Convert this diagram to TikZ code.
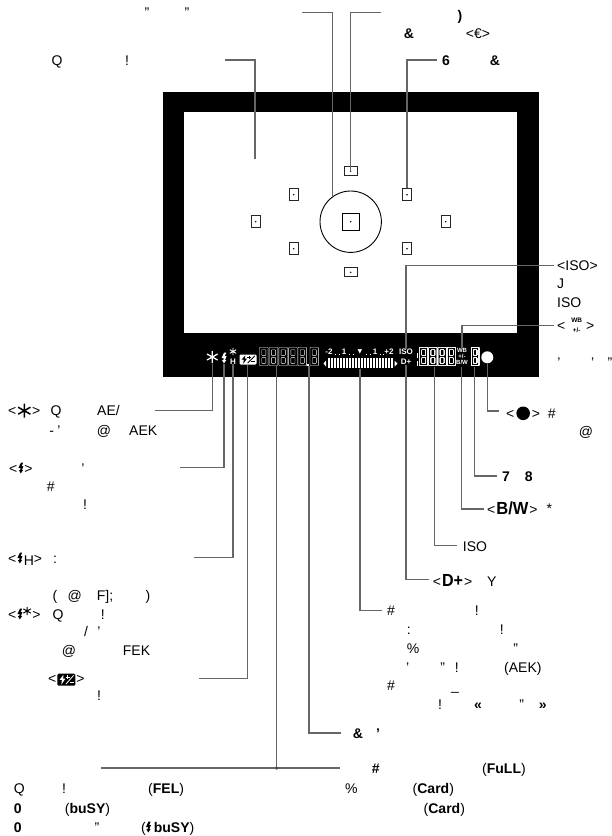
\documentclass[tikz,border=0pt]{standalone}
\usepackage{fontspec}
\usepackage{graphicx}
\setmainfont{Liberation Sans}
\newfontfamily\symfont{DejaVu Sans}
% Inline symbols, centred on the capital height of the text
\newcommand{\flashmark}[1]{\tikz[x=#1pt,y=#1pt,baseline=-5pt]\fill (0.2,5.5) -- (2.4,5.5) -- (0.9,1.8) -- (2.6,1.8) -- (1.2,-2) -- (2.4,-2) -- (0,-5.5) -- (-1.8,-2) -- (-0.6,-2) -- (-0.1,-0.2) -- (-2.4,-0.2) -- cycle;}
\newcommand{\starmark}[2]{\tikz[x=1pt,y=1pt,baseline=-5pt]{\draw[line width=#2pt] (0,-#1) -- (0,#1) (-#1*0.88,-#1*0.5) -- (#1*0.88,#1*0.5) (-#1*0.88,#1*0.5) -- (#1*0.88,-#1*0.5);}}
\newcommand{\fecmark}[4]{\tikz[x=1pt,y=1pt,baseline=-4pt]{
  \fill[#3, rounded corners=1.2pt] (-#1/2,-#2/2) rectangle (#1/2,#2/2);
  \fill[#4] (-#1*0.16,#2*0.42) -- (-#1*0.38,-#2*0.02) -- (-#1*0.25,-#2*0.02) -- (-#1*0.28,-#2*0.42) -- (-#1*0.06,#2*0.08) -- (-#1*0.18,#2*0.08) -- cycle;
  \draw[#4, line width=0.8pt] (-#1*0.02,-#2*0.36) -- (#1*0.4,#2*0.36);
  \draw[#4, line width=0.7pt] (-#1*0.04,#2*0.2) -- (#1*0.18,#2*0.2) (#1*0.07,#2*0.05) -- (#1*0.07,#2*0.36) (#1*0.18,-#2*0.2) -- (#1*0.4,-#2*0.2);
}}
\newcommand{\dotmark}{\tikz[x=1pt,y=1pt,baseline=-5pt]\fill (0,0) circle (6.8);}
\tikzset{
  txt/.style={anchor=west, inner sep=0pt, text height=10pt, text depth=0pt, font=\fontsize{14}{14}\selectfont},
  mrk/.style={txt, anchor=center},
  bld/.style={mrk, font=\fontsize{14}{14}\selectfont\bfseries},
  lcd/.style={inner sep=0pt, text=white, font=\fontsize{8}{8}\selectfont\bfseries},
  lcdsmall/.style={lcd, font=\fontsize{6}{6}\selectfont\bfseries},
  leader/.style={draw=black!60, line width=1.1pt},
  afbox/.style={draw=black!85, line width=0.9pt, inner sep=0pt, fill=white},
  seg/.style={draw=white, line width=0.4pt, rounded corners=0.5pt}
}
\newcommand{\digit}[2]{
  \draw[seg] (#1,347.5) rectangle (#1+#2,365.5);
  \draw[seg] (#1+2.2,349.7) rectangle (#1+#2-2.2,355.4);
  \draw[seg] (#1+2.2,357.6) rectangle (#1+#2-2.2,363.3);
}
\begin{document}
\begin{tikzpicture}[x=1pt,y=-1pt]
\useasboundingbox (0,0) rectangle (612,836);

% Viewfinder frame
\fill[black] (163,92) rectangle (539,377);
\fill[white] (184,112) rectangle (517,333);

% AF points
\foreach \name/\px/\py in {afB/293.7/194.7,afC/407/194.7,afD/255.7/221.7,afE/445.7/221.7,afF/293.7/248.7,afG/407/248.7}{
  \node[afbox, minimum width=9pt, minimum height=12pt] (\name) at (\px,\py) {};
  \fill (\px,\py) circle (0.8pt);
}
\node[afbox, minimum width=13pt, minimum height=9pt] (afTop) at (350.7,171) {};
\node[afbox, minimum width=13pt, minimum height=9pt] (afBot) at (350.7,272.3) {};
\fill (350.7,171) circle (0.8pt);
\fill (350.7,272.3) circle (0.8pt);

% Spot circle and centre point
\node[draw, circle, line width=0.9pt, minimum size=61.4pt, inner sep=0pt] (spot) at (350.7,221.7) {};
\node[draw, line width=0.9pt, minimum size=17pt, inner sep=0pt] (afMid) at (350.7,221.7) {};
\fill (350.7,221.7) circle (0.8pt);

% Display symbols
\node[lcd, text=white] (lcdStar) at (212.3,357) {\color{white}\starmark{6}{1.3}};
\node[lcd] (lcdFlash) at (224,358) {\color{white}\flashmark{1}};
\node[lcd] (lcdFstar) at (233,352) {\color{white}\starmark{3.6}{0.9}};
\node[lcd] (lcdH) at (233,361.5) {H};
\node[inner sep=0pt] (lcdFec) at (248,359.5) {\fecmark{17}{10}{white}{black}};

% Seven segment digits
\foreach \px in {259.5,269.2,278.9,288.6,298,310}
  \digit{\px}{8.6}
\foreach \px in {419.5,428.7,437.9,447.1}
  \digit{\px}{8.4}
\digit{471.5}{7.5}
\fill[white] (307.7,365) circle (0.9pt);
\fill[white] (417.3,353) rectangle (418,358);
\fill[white] (417.3,361) rectangle (418,366);

% Exposure scale
\node[lcd] (scaleA) at (329,352) {-2};
\node[lcd] (scaleB) at (344,352) {1};
\node[lcd, font=\fontsize{6}{6}\selectfont\symfont] (scaleC) at (360,352) {▼};
\node[lcd] (scaleD) at (375,352) {1};
\node[lcd] (scaleE) at (389,352) {+2};
\foreach \px in {335,339,349,353,366,370,380,383}
  \fill[white] (\px,353.5) rectangle (\px+1.4,355);
\foreach \i in {0,...,21}
  \fill[white] (327.5+\i*3,358.3) rectangle (329.5+\i*3,368);
\fill[white] (326,360.5) -- (326,366.5) -- (323.5,363.5) -- cycle;
\fill[white] (394.5,360.5) -- (394.5,366.5) -- (397.5,363.5) -- cycle;

\node[lcd] (lcdIso) at (406,352) {ISO};
\node[lcd] (lcdDplus) at (406,362) {D+};
\node[lcdsmall] (lcdWb) at (462,350) {WB};
\node[lcdsmall] (lcdPm) at (462,356.6) {+/-};
\node[lcdsmall] (lcdBw) at (462,362.8) {B/W};
\node[fill=white, circle, minimum size=12pt, inner sep=0pt] (lcdDot) at (487.3,357.3) {};

% Leader ends
\coordinate (endAf) at (225,60);
\coordinate (areaAf) at (255,159);
\coordinate (endSpot) at (302,12.7);
\coordinate (endTop) at (380.7,12.7);
\coordinate (endPt) at (437,60);
\coordinate (endIso) at (554,265.3);
\coordinate (endWb) at (554,325.3);
\coordinate (endStar) at (155,410.7);
\coordinate (endFlash) at (180,467.3);
\coordinate (endH) at (194,557.7);
\coordinate (endFec) at (199,678.7);
\coordinate (endDot) at (499,411);
\coordinate (end78) at (496.7,476);
\coordinate (endBw) at (484,509);
\coordinate (endSens) at (457,545.3);
\coordinate (endDplus) at (429,579.3);
\coordinate (endAper) at (341,733);
\coordinate (endScale) at (381.7,610.7);
\coordinate (busA) at (100.8,768);
\coordinate (busB) at (340,768);
\coordinate (busDot) at (276.7,768);
\coordinate (digitTop) at (276.7,366);
\coordinate (aperTop) at (309,366);
\coordinate (scaleTop) at (360,369);
\coordinate (sensTop) at (434.7,367);
\coordinate (bwTop) at (461.7,367);
\coordinate (oneTop) at (474.7,367);
\coordinate (fecTop) at (247.7,365);
\coordinate (starTop) at (212.3,364);

% Leaders, top
\draw[leader] (areaAf) |- (endAf);
\draw[leader] (spot.126) |- (endSpot);
\draw[leader] (afTop.center) |- (endTop);
\draw[leader] (afC.north) |- (endPt);

% Leaders, right
\draw[leader] (lcdIso.north) |- (endIso);
\draw[leader] (lcdWb.north) |- (endWb);
\draw[leader] (lcdDot.south) |- (endDot);
\draw[leader] (oneTop) |- (end78);
\draw[leader] (bwTop) |- (endBw);
\draw[leader] (sensTop) |- (endSens);
\draw[leader] (lcdDplus.south) |- (endDplus);

% Leaders, left and bottom
\draw[leader] (starTop) |- (endStar);
\draw[leader] (lcdFlash.south) |- (endFlash);
\draw[leader] (lcdH.south) |- (endH);
\draw[leader] (fecTop) |- (endFec);
\draw[leader] (digitTop) -- (busDot);
\draw[leader] (busA) -- (busB);
\fill[black!70] (busDot) circle (1.8pt);
\draw[leader] (aperTop) |- (endAper);
\draw[leader] (scaleTop) |- (endScale);

% Labels, top
\node[mrk] (tA) at (147,12.7) {"};
\node[mrk] (tB) at (187,12.7) {"};
\node[bld] (tC) at (460,15) {)};
\node[bld] (tD) at (409,33) {\&};
\node[mrk] (tE) at (478,33) {<€>};
\node[mrk] (tF) at (57,60) {Q};
\node[mrk] (tG) at (127,60) {!};
\node[bld] (tH) at (446,60) {6};
\node[bld] (tI) at (495,60) {\&};

% Labels, right
\node[txt] (rA) at (557,265.3) {<ISO>};
\node[txt] (rB) at (557,283.5) {J};
\node[txt] (rC) at (557,302) {ISO};
\node[txt] (rDa) at (557,325.3) {<};
\node[lcdsmall, text=black, font=\fontsize{6.5}{6.5}\selectfont\bfseries] (rDb) at (576.7,320.5) {WB};
\node[lcdsmall, text=black, font=\fontsize{6.5}{6.5}\selectfont\bfseries] (rDc) at (576.7,330) {+/-};
\node[txt] (rDd) at (586,325.3) {>};
\node[mrk] (rE) at (559,362) {'};
\node[mrk] (rF) at (592.7,362) {'};
\node[mrk] (rG) at (610,362) {"};
\node[txt] (rH) at (506,413.3) {<\hspace{2pt}\dotmark\hspace{2pt}>};
\node[mrk] (rI) at (551.7,413.3) {\#};
\node[mrk] (rJ) at (586,431) {@};
\node[bld] (rK) at (506,476) {7};
\node[bld] (rL) at (528.7,476) {8};
\node[txt] (rM) at (487,509) {<\hspace{1pt}{\bfseries\scalebox{1.18}[1.25]{B/W}}\hspace{1pt}>};
\node[mrk] (rN) at (549.3,508) {*};
\node[txt] (rO) at (462.7,546) {ISO};
\node[txt] (rP) at (432.7,581.7) {<\hspace{1pt}{\bfseries\scalebox{1.15}[1.25]{D+}}\hspace{1pt}>};
\node[txt] (rQ) at (487,581.7) {Y};

% Scale text
\node[mrk] (sA) at (391,610.7) {\#};
\node[mrk] (sB) at (476.7,610.7) {!};
\node[mrk] (sC) at (408.7,629.5) {:};
\node[mrk] (sD) at (501.7,629.5) {!};
\node[mrk] (sE) at (413,648) {\%};
\node[mrk] (sF) at (515.7,648) {"};
\node[mrk] (sG) at (407.7,667) {'};
\node[mrk] (sH) at (442.7,667) {"};
\node[mrk] (sI) at (456.7,667) {!};
\node[txt] (sJ) at (504,667) {(AEK)};
\node[mrk] (sK) at (391,685.7) {\#};
\node[mrk] (sL) at (455,685.7) {\_};
\node[mrk] (sM) at (440,704) {!};
\node[bld] (sN) at (478,704) {«};
\node[mrk] (sO) at (521.6,704) {"};
\node[bld] (sP) at (542.7,704) {»};
\node[bld] (sQ) at (358,733) {\&};
\node[bld] (sR) at (378,733) {'};

% Labels, left
\node[txt] (lA) at (8,410.7) {<\hspace{1pt}\starmark{7}{1.5}\hspace{1pt}>};
\node[mrk] (lB) at (56,410.7) {Q};
\node[txt] (lC) at (97,410.7) {AE/};
\node[mrk] (lD) at (51.7,430) {-};
\node[mrk] (lE) at (59,430) {'};
\node[mrk] (lF) at (104,430) {@};
\node[txt] (lG) at (129,430) {AEK};
\node[txt] (lH) at (9,468) {<\hspace{1pt}\flashmark{1}\hspace{1pt}>};
\node[mrk] (lI) at (83,468) {'};
\node[mrk] (lJ) at (50.7,486) {\#};
\node[mrk] (lK) at (85,504) {!};
\node[txt] (lL) at (8,558) {<\hspace{1pt}\flashmark{1}\hspace{1.5pt}\raisebox{-2.5pt}{H}>};
\node[mrk] (lM) at (55,558) {:};
\node[mrk] (lN) at (55,595.7) {(};
\node[mrk] (lO) at (74.7,595.7) {@};
\node[txt] (lP) at (96.7,595.7) {F];};
\node[mrk] (lQ) at (148,595.7) {)};
\node[txt] (lR) at (8,614) {<\hspace{1pt}\flashmark{1}\hspace{0.5pt}\raisebox{3pt}{\starmark{4.2}{1}}\hspace{1pt}>};
\node[mrk] (lS) at (58,614) {Q};
\node[mrk] (lT) at (102.7,614) {!};
\node[mrk] (lU) at (86,631.7) {/};
\node[mrk] (lV) at (99,631.7) {'};
\node[mrk] (lW) at (69,650.7) {@};
\node[txt] (lX) at (122.7,650.7) {FEK};
\node[txt] (lY) at (48,678.7) {<\hspace{1pt}\fecmark{18}{12}{black}{white}\hspace{1pt}>};
\node[mrk] (lZ) at (99,695) {!};

% Labels, bottom
\node[bld] (bA) at (375.7,768) {\#};
\node[txt] (bB) at (482,768) {({\bfseries FuLL})};
\node[txt] (bC) at (13.7,788) {Q};
\node[mrk] (bD) at (64,788) {!};
\node[txt] (bE) at (148,788) {({\bfseries FEL})};
\node[txt] (bF) at (345,788) {\%};
\node[txt] (bG) at (412.5,788) {({\bfseries Card})};
\node[txt, font=\fontsize{14}{14}\selectfont\bfseries] (bH) at (13.7,808) {0};
\node[txt] (bI) at (64.7,808) {({\bfseries buSY})};
\node[txt] (bJ) at (423.5,808) {({\bfseries Card})};
\node[txt, font=\fontsize{14}{14}\selectfont\bfseries] (bK) at (13.7,827) {0};
\node[mrk] (bL) at (97,827) {"};
\node[txt] (bM) at (141,827) {(\flashmark{1}\hspace{3pt}{\bfseries buSY})};

\end{tikzpicture}
\end{document}
